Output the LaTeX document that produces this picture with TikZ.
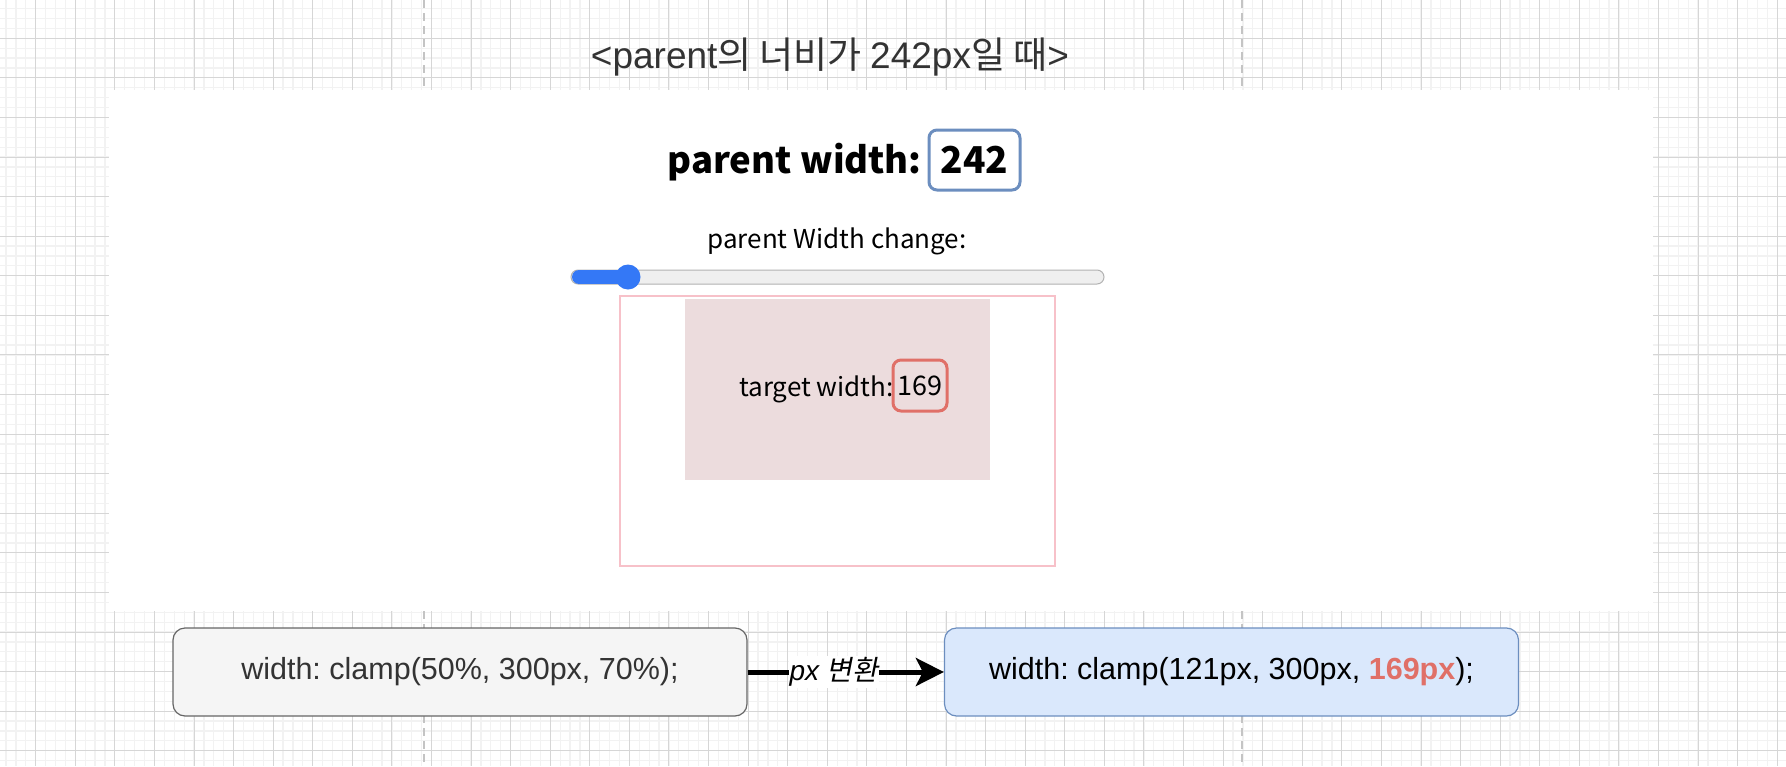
\documentclass[tikz,border=0pt]{standalone}
\usepackage{fontspec}
\setmainfont{Liberation Sans}
\newfontfamily\kr{Noto Sans CJK KR}
\newfontfamily\krit{Noto Sans CJK KR}[FakeSlant=0.2]
\newfontfamily\web{Noto Sans CJK KR}
\usetikzlibrary{arrows.meta}
\frenchspacing
\definecolor{gridmajor}{HTML}{D6D6D6}
\definecolor{gridminor}{HTML}{F2F2F2}
\definecolor{pagebreak}{HTML}{C4C4C4}
\definecolor{titlegray}{HTML}{333333}
\definecolor{bluebord}{HTML}{6C8EBF}
\definecolor{bluefill}{HTML}{DAE8FC}
\definecolor{redbord}{HTML}{E07068}
\definecolor{pinkbord}{HTML}{F7C1C9}
\definecolor{pinkfill}{HTML}{ECDCDD}
\definecolor{sliderblue}{HTML}{3478F6}
\definecolor{trackfill}{HTML}{EFEFEF}
\definecolor{trackbord}{HTML}{B2B2B2}
\definecolor{grayfill}{HTML}{F5F5F5}
\definecolor{graybord}{HTML}{666666}
\newcommand\setfs[1]{\fontsize{#1}{#1}\selectfont}
\begin{document}
\begin{tikzpicture}[x=1pt,y=-1pt,
  titletext/.style={inner sep=0pt, text=titlegray, font=\setfs{37}},
  webtext/.style={inner sep=0pt, text=black, font=\web\setfs{26}},
  webbold/.style={inner sep=0pt, text=black, font=\web\bfseries\setfs{36.5}},
  numbox/.style={rounded corners=8pt, line width=3pt, inner sep=0pt},
  codebox/.style={rounded corners=12pt, line width=1.2pt, minimum width=574pt, minimum height=88pt, inner sep=0pt, font=\setfs{30.5}},
  connector/.style={line width=5pt, -{Stealth[length=28pt,width=28pt,inset=7pt]}}
]
\useasboundingbox (0,0) rectangle (1786,766);
\fill[white] (0,0) rectangle (1786,766);
% grid
\foreach \i in {0,...,180} \draw[gridminor, line width=1.2pt] ({6.015+\i*9.895},0) -- ++(0,766);
\foreach \i in {0,...,77} \draw[gridminor, line width=1.2pt] (0,{8.615+\i*9.895}) -- ++(1786,0);
\foreach \i in {0,...,44} \draw[gridmajor, line width=1pt] ({35.7+\i*39.58},0) -- ++(0,766);
\foreach \i in {0,...,18} \draw[gridmajor, line width=1pt] (0,{38.3+\i*39.58}) -- ++(1786,0);
% page breaks
\draw[pagebreak, line width=2pt, dash pattern=on 8pt off 5pt] (424,0) -- ++(0,766);
\draw[pagebreak, line width=2pt, dash pattern=on 8pt off 5pt] (1242,0) -- ++(0,766);
% page area
\fill[white] (109,90) rectangle (1653,611);

% title
\node[titletext] (title) at (830,57) {<parent{\kr 의 너비가 }242px{\kr 일 때}>};

% parent width
\node[webbold, anchor=base east] (pwlabel) at (922,173) {parent width:};
\node[numbox, draw=bluebord, minimum width=91pt, minimum height=60pt, font=\web\bfseries\setfs{37}] (pwnum) at (974.5,160) {242};

% slider
\node[webtext, anchor=base] (slabel) at (837,248) {parent Width change:};
\draw[trackbord, fill=trackfill, line width=1pt, rounded corners=7pt] (571,270) rectangle (1104,284);
\draw[sliderblue, line width=14pt, line cap=round] (579,277) -- (628,277);
\fill[sliderblue] (628,277) circle (12.5);

% parent box and target
\draw[pinkbord, line width=2.5pt] (620,296) rectangle (1055,566);
\fill[pinkfill] (685,299) rectangle (990,480);
\node[webtext, anchor=base east] (tlabel) at (894,396) {target width:};
\node[numbox, draw=redbord, minimum width=54pt, minimum height=51pt, font=\web\setfs{27}] (tnum) at (920,385.5) {169\hspace{6pt}};

% bottom code boxes
\node[codebox, fill=grayfill, draw=graybord, text=titlegray] (lbox) at (460,672) {width: clamp(50\%, 300px, 70\%);};
\node[codebox, fill=bluefill, draw=bluebord, text=black] (rbox) at (1231.5,672) {width: clamp(121px, 300px, \textbf{\textcolor{redbord}{169px}});};
\draw[connector] (lbox.east) -- node[pos=0.44, fill=white, inner sep=1pt, font=\setfs{28}, text=black] (conv) {\itshape px {\krit 변환}} (rbox.west);
\end{tikzpicture}
\end{document}
